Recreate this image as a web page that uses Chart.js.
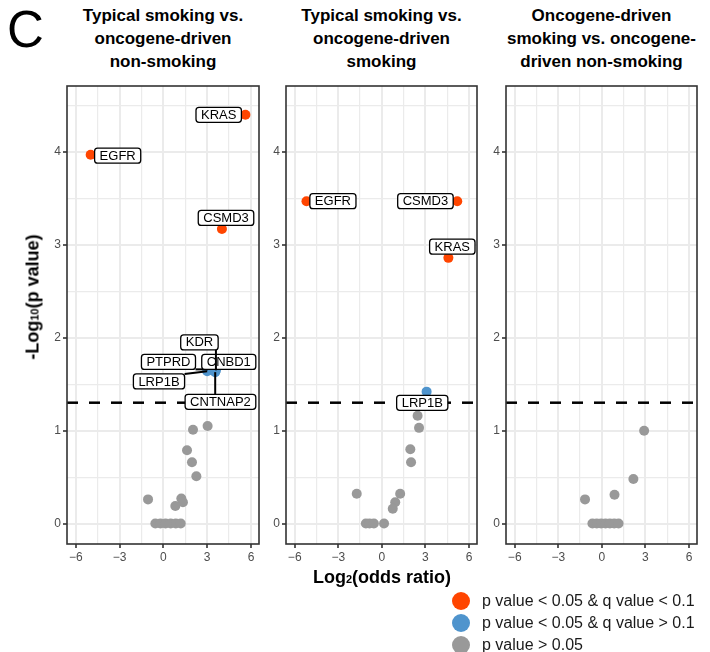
<!DOCTYPE html>
<html>
<head>
<meta charset="utf-8">
<script src="https://cdn.jsdelivr.net/npm/chart.js@4.4.1/dist/chart.umd.min.js"></script>
<style>
  html, body { margin:0; padding:0; background:#fff; }
  body { width:710px; height:652px; position:relative; overflow:hidden; font-family:"Liberation Sans", Arial, Helvetica, sans-serif; }
  .cv { position:absolute; }
  .title { position:absolute; width:240px; text-align:center; font-weight:bold; font-size:17px; line-height:23px; color:#000; }
  .letter { position:absolute; left:7px; top:4px; font-size:51px; line-height:51px; color:#000; }
  .ytitle { position:absolute; left:33px; top:297px; transform:translate(-50%,-50%) rotate(-90deg); white-space:nowrap; font-weight:bold; font-size:18px; color:#000; }
  .xtitle { position:absolute; left:382px; top:577px; transform:translate(-50%,-50%); white-space:nowrap; font-weight:bold; font-size:18px; color:#000; }
  .sub { font-size:11px; }
  .leg { position:absolute; left:452px; height:22px; display:flex; align-items:center; font-size:16px; color:#1a1a1a; white-space:nowrap; }
  .leg .dot { width:18px; height:18px; border-radius:50%; margin-right:12px; }
</style>
</head>
<body>
<div class="letter">C</div>
<div class="title" id="t0"></div>
<div class="title" id="t1"></div>
<div class="title" id="t2"></div>
<canvas class="cv" id="c0"></canvas>
<canvas class="cv" id="c1"></canvas>
<canvas class="cv" id="c2"></canvas>
<div class="ytitle">-Log<span class="sub">10</span>(p value)</div>
<div class="xtitle">Log<span class="sub">2</span>(odds ratio)</div>
<div id="legend"></div>
<script>
// ---------------- DATA ----------------
const panelTitles = [
  ["Typical smoking vs.", "oncogene-driven", "non-smoking"],
  ["Typical smoking vs.", "oncogene-driven", "smoking"],
  ["Oncogene-driven", "smoking vs. oncogene-", "driven non-smoking"]
];
const xTicks = [-6, -3, 0, 3, 6];
const yTicks = [0, 1, 2, 3, 4];
const legendLabels = ["p value < 0.05 & q value < 0.1", "p value < 0.05 & q value > 0.1", "p value > 0.05"];
const pThreshold = 0.05;

// Panel 1: Typical smoking vs. oncogene-driven non-smoking
const p1SigGenes = ["KRAS", "EGFR", "CSMD3"];
const p1SigX = [5.62, -4.98, 4.01];
const p1SigY = [4.40, 3.97, 3.17];
const p1NomGenes = ["LRP1B", "PTPRD", "CNBD1", "KDR", "CNTNAP2"];
const p1NomX = [3.00, 3.05, 3.35, 3.60, 3.55];
const p1NomY = [1.64, 1.66, 1.65, 1.65, 1.63];
const p1NsX = [3.03, 2.03, 1.62, 1.96, 2.26, -1.05, 1.23, 1.34, 0.82, -0.55, -0.20, 0.15, 0.50, 0.85, 1.19];
const p1NsY = [1.05, 1.01, 0.79, 0.66, 0.51, 0.26, 0.27, 0.23, 0.19, 0, 0, 0, 0, 0, 0];

// Panel 2: Typical smoking vs. oncogene-driven smoking
const p2SigGenes = ["EGFR", "CSMD3", "KRAS"];
const p2SigX = [-5.19, 5.19, 4.58];
const p2SigY = [3.47, 3.47, 2.86];
const p2NomGenes = ["LRP1B"];
const p2NomX = [3.08];
const p2NomY = [1.42];
const p2NsX = [2.46, 2.56, 1.96, 2.01, -1.73, 1.26, 0.92, 0.75, -1.10, -0.85, -0.55, 0.15];
const p2NsY = [1.16, 1.03, 0.80, 0.66, 0.32, 0.32, 0.23, 0.16, 0, 0, 0, 0];

// Panel 3: Oncogene-driven smoking vs. oncogene-driven non-smoking
const p3SigGenes = [];
const p3SigX = [];
const p3SigY = [];
const p3NomGenes = [];
const p3NomX = [];
const p3NomY = [];
const p3NsX = [-1.16, 0.87, 2.17, 2.91, -0.65, -0.35, -0.05, 0.25, 0.55, 0.85, 1.15];
const p3NsY = [0.26, 0.31, 0.48, 1.00, 0, 0, 0, 0, 0, 0, 0];

// ---------------- LAYOUT / STYLE ----------------
const colors = { sig: "#FF4500", nom: "#4F94CD", ns: "#999999" };
// label placement (in data units) for repelled gene labels
const labelPlacement = [
  { KRAS:[3.79,4.40], EGFR:[-3.13,3.96], CSMD3:[4.29,3.29], KDR:[2.47,1.95,1], PTPRD:[0.35,1.74,1], CNBD1:[4.48,1.74], LRP1B:[-0.30,1.53,1], CNTNAP2:[3.91,1.31,1] },
  { EGFR:[-3.37,3.47], CSMD3:[3.00,3.47], KRAS:[4.85,2.98], LRP1B:[2.78,1.30] },
  {}
];
const panelBox = [ {L:67, R:259}, {L:286, R:477}, {L:506, R:697} ];
const TOP = 86, BOTTOM = 544;
const Y_AXIS_W = 32, X_AXIS_H = 26, PAD_R = 6, PAD_T = 6;
const xMin = -6.6, xMax = 6.55, yMin = -0.22, yMax = 4.71;
const xGrid = [-6, -4.5, -3, -1.5, 0, 1.5, 3, 4.5, 6];
const yGrid = [0, 0.5, 1, 1.5, 2, 2.5, 3, 3.5, 4, 4.5];

const panels = [
  { sig:[p1SigGenes,p1SigX,p1SigY], nom:[p1NomGenes,p1NomX,p1NomY], ns:[p1NsX,p1NsY] },
  { sig:[p2SigGenes,p2SigX,p2SigY], nom:[p2NomGenes,p2NomX,p2NomY], ns:[p2NsX,p2NsY] },
  { sig:[p3SigGenes,p3SigX,p3SigY], nom:[p3NomGenes,p3NomX,p3NomY], ns:[p3NsX,p3NsY] }
];

// titles
panelTitles.forEach((lines, i) => {
  const el = document.getElementById('t' + i);
  const c = (panelBox[i].L + panelBox[i].R) / 2;
  el.style.left = (c - 120) + 'px';
  el.style.top = '4px';
  el.innerHTML = lines.join('<br>');
});

// legend
const legColors = [colors.sig, colors.nom, colors.ns];
const legEl = document.getElementById('legend');
legendLabels.forEach((t, i) => {
  const d = document.createElement('div');
  d.className = 'leg';
  d.style.top = (590 + i * 22) + 'px';
  d.innerHTML = '<span class="dot" style="background:' + legColors[i] + '"></span><span>' + t + '</span>';
  legEl.appendChild(d);
});

const FONT = '"Liberation Sans", Arial, Helvetica, sans-serif';

const framePlugin = {
  id: 'frame',
  beforeDatasetsDraw(chart) {
    const { ctx, chartArea: a, scales: { y } } = chart;
    const yy = y.getPixelForValue(-Math.log10(pThreshold));
    ctx.save();
    ctx.beginPath();
    ctx.rect(a.left, a.top, a.right - a.left, a.bottom - a.top);
    ctx.clip();
    ctx.strokeStyle = '#000';
    ctx.lineWidth = 2.5;
    ctx.setLineDash([11, 11]);
    ctx.beginPath();
    ctx.moveTo(a.left, yy);
    ctx.lineTo(a.right, yy);
    ctx.stroke();
    ctx.restore();
  },
  afterDraw(chart) {
    const { ctx, chartArea: a } = chart;
    ctx.save();
    ctx.strokeStyle = '#333333';
    ctx.lineWidth = 1.6;
    ctx.strokeRect(a.left, a.top, a.right - a.left, a.bottom - a.top);
    ctx.restore();
  }
};

const labelPlugin = {
  id: 'geneLabels',
  afterDatasetsDraw(chart, args, opts) {
    const { ctx, scales: { x, y } } = chart;
    const place = opts.place || {};
    ctx.save();
    ctx.font = '13px ' + FONT;
    ctx.textAlign = 'center';
    ctx.textBaseline = 'middle';
    opts.items.forEach(it => {
      const pl = place[it.gene];
      if (!pl) return;
      const px = x.getPixelForValue(it.x), py = y.getPixelForValue(it.y);
      const cx = x.getPixelForValue(pl[0]), cy = y.getPixelForValue(pl[1]);
      const w = ctx.measureText(it.gene).width + 10;
      const h = 15;
      const bx = cx - w / 2, by = cy - h / 2;
      if (pl[2]) {
        const nx = Math.min(Math.max(px, bx), bx + w);
        const ny = Math.min(Math.max(py, by), by + h);
        ctx.strokeStyle = '#000';
        ctx.lineWidth = 2;
        ctx.beginPath();
        ctx.moveTo(nx, ny);
        ctx.lineTo(px, py);
        ctx.stroke();
      }
      ctx.beginPath();
      ctx.roundRect(bx, by, w, h, 3);
      ctx.fillStyle = '#fff';
      ctx.fill();
      ctx.strokeStyle = '#000';
      ctx.lineWidth = 1.3;
      ctx.stroke();
      ctx.fillStyle = '#000';
      ctx.fillText(it.gene, cx, cy + 0.5);
    });
    ctx.restore();
  }
};

function pts(xs, ys) { return xs.map((v, i) => ({ x: v, y: ys[i] })); }
function noPad(s) { s.paddingTop = 0; s.paddingBottom = 0; s.paddingLeft = 0; s.paddingRight = 0; }

panels.forEach((p, i) => {
  const box = panelBox[i];
  const cv = document.getElementById('c' + i);
  const W = (box.R - box.L) + Y_AXIS_W + PAD_R;
  const H = (BOTTOM - TOP) + PAD_T + X_AXIS_H;
  cv.style.left = (box.L - Y_AXIS_W) + 'px';
  cv.style.top = (TOP - PAD_T) + 'px';
  cv.style.width = W + 'px';
  cv.style.height = H + 'px';
  cv.width = W; cv.height = H;

  const items = [];
  p.sig[0].forEach((g, k) => items.push({ gene: g, x: p.sig[1][k], y: p.sig[2][k] }));
  p.nom[0].forEach((g, k) => items.push({ gene: g, x: p.nom[1][k], y: p.nom[2][k] }));

  new Chart(cv, {
    type: 'scatter',
    data: {
      datasets: [
        { label: legendLabels[0], data: pts(p.sig[1], p.sig[2]), backgroundColor: colors.sig, pointRadius: 5, pointBorderWidth: 0, pointHoverRadius: 5 },
        { label: legendLabels[1], data: pts(p.nom[1], p.nom[2]), backgroundColor: colors.nom, pointRadius: 5, pointBorderWidth: 0, pointHoverRadius: 5 },
        { label: legendLabels[2], data: pts(p.ns[0], p.ns[1]), backgroundColor: colors.ns, pointRadius: 5, pointBorderWidth: 0, pointHoverRadius: 5 }
      ]
    },
    options: {
      responsive: false,
      animation: false,
      events: [],
      layout: { padding: { left: 0, right: PAD_R, top: PAD_T, bottom: 0 } },
      plugins: {
        legend: { display: false },
        tooltip: { enabled: false },
        geneLabels: { items: items, place: labelPlacement[i] }
      },
      scales: {
        x: {
          type: 'linear', min: xMin, max: xMax,
          afterBuildTicks: s => { s.ticks = xGrid.map(v => ({ value: v })); },
          afterFit: s => { s.height = X_AXIS_H; noPad(s); },
          border: { display: false },
          grid: {
            color: '#EBEBEB',
            lineWidth: c => (xTicks.includes(c.tick.value) ? 2 : 1.2),
            drawTicks: true, tickLength: 4,
            tickColor: c => (xTicks.includes(c.tick.value) ? '#333333' : 'rgba(0,0,0,0)'),
            tickWidth: 1.6
          },
          ticks: {
            autoSkip: false, maxRotation: 0, minRotation: 0, padding: 2,
            color: '#4D4D4D', font: { family: FONT, size: 12 },
            callback: v => (xTicks.includes(v) ? String(v).replace('-', '\u2212') : '')
          }
        },
        y: {
          type: 'linear', min: yMin, max: yMax,
          afterBuildTicks: s => { s.ticks = yGrid.map(v => ({ value: v })); },
          afterFit: s => { s.width = Y_AXIS_W; noPad(s); },
          border: { display: false },
          grid: {
            color: '#EBEBEB',
            lineWidth: c => (yTicks.includes(c.tick.value) ? 2 : 1.2),
            drawTicks: true, tickLength: 4,
            tickColor: c => (yTicks.includes(c.tick.value) ? '#333333' : 'rgba(0,0,0,0)'),
            tickWidth: 1.6
          },
          ticks: {
            autoSkip: false, padding: 2,
            color: '#4D4D4D', font: { family: FONT, size: 12 },
            callback: v => (yTicks.includes(v) ? String(v) : '')
          }
        }
      }
    },
    plugins: [framePlugin, labelPlugin]
  });
});
</script>
</body>
</html>
